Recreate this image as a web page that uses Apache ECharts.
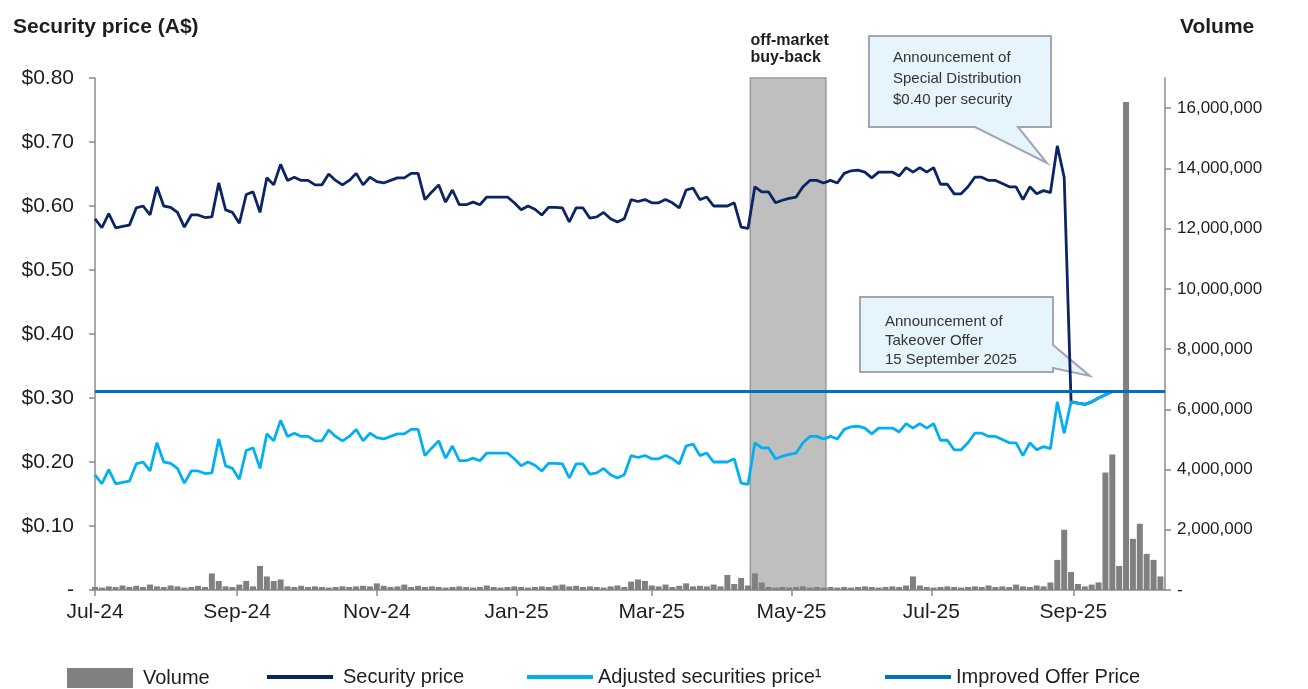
<!DOCTYPE html>
<html>
<head>
<meta charset="utf-8">
<script src="https://cdn.jsdelivr.net/npm/echarts@6/dist/echarts.min.js"></script>
<style>
  html, body { margin: 0; padding: 0; background: #fff; }
  #chart { width: 1308px; height: 689px; }
</style>
</head>
<body>
<div id="chart"></div>
<script>
// prices, one sample every 3 calendar days from 1 Jul 2024
const firstDay = '2024-07-01'
const stepDays = 3

const securityPrice = [
  0.580, 0.566, 0.588, 0.566, 0.568, 0.570, 0.597, 0.600, 0.586, 0.630,
  0.600, 0.598, 0.590, 0.567, 0.586, 0.586, 0.582, 0.583, 0.636, 0.594,
  0.590, 0.573, 0.618, 0.622, 0.590, 0.644, 0.633, 0.665, 0.640, 0.645,
  0.640, 0.640, 0.633, 0.633, 0.650, 0.640, 0.633, 0.640, 0.651, 0.633,
  0.645, 0.638, 0.636, 0.640, 0.644, 0.644, 0.651, 0.651, 0.610, 0.622,
  0.633, 0.606, 0.625, 0.602, 0.602, 0.606, 0.602, 0.614, 0.614, 0.614,
  0.614, 0.605, 0.594, 0.600, 0.595, 0.586, 0.598, 0.598, 0.597, 0.575,
  0.597, 0.597, 0.581, 0.583, 0.590, 0.580, 0.575, 0.580, 0.610, 0.607,
  0.610, 0.605, 0.605, 0.610, 0.605, 0.597, 0.625, 0.628, 0.610, 0.614,
  0.600, 0.600, 0.600, 0.605, 0.567, 0.565, 0.630, 0.622, 0.622, 0.605,
  0.609, 0.612, 0.614, 0.630, 0.640, 0.640, 0.636, 0.640, 0.636, 0.651,
  0.655, 0.656, 0.653, 0.644, 0.653, 0.653, 0.653, 0.647, 0.660, 0.653,
  0.660, 0.653, 0.660, 0.634, 0.634, 0.619, 0.619, 0.630, 0.645, 0.645,
  0.640, 0.640, 0.635, 0.630, 0.630, 0.610, 0.630, 0.619, 0.624, 0.621,
  0.694, 0.645, 0.294, 0.292, 0.290, 0.294, 0.300, 0.305, 0.310, 0.310,
  0.310, 0.310, 0.310, 0.310, 0.310, 0.310
]

const adjustedPrice = [
  0.180, 0.166, 0.188, 0.166, 0.168, 0.170, 0.197, 0.200, 0.186, 0.230,
  0.200, 0.198, 0.190, 0.167, 0.186, 0.186, 0.182, 0.183, 0.236, 0.194,
  0.190, 0.173, 0.218, 0.222, 0.190, 0.244, 0.233, 0.265, 0.240, 0.245,
  0.240, 0.240, 0.233, 0.233, 0.250, 0.240, 0.233, 0.240, 0.251, 0.233,
  0.245, 0.238, 0.236, 0.240, 0.244, 0.244, 0.251, 0.251, 0.210, 0.222,
  0.233, 0.206, 0.225, 0.202, 0.202, 0.206, 0.202, 0.214, 0.214, 0.214,
  0.214, 0.205, 0.194, 0.200, 0.195, 0.186, 0.198, 0.198, 0.197, 0.175,
  0.197, 0.197, 0.181, 0.183, 0.190, 0.180, 0.175, 0.180, 0.210, 0.207,
  0.210, 0.205, 0.205, 0.210, 0.205, 0.197, 0.225, 0.228, 0.210, 0.214,
  0.200, 0.200, 0.200, 0.205, 0.167, 0.165, 0.230, 0.222, 0.222, 0.205,
  0.209, 0.212, 0.214, 0.230, 0.240, 0.240, 0.236, 0.240, 0.236, 0.251,
  0.255, 0.256, 0.253, 0.244, 0.253, 0.253, 0.253, 0.247, 0.260, 0.253,
  0.260, 0.253, 0.260, 0.234, 0.234, 0.219, 0.219, 0.230, 0.245, 0.245,
  0.240, 0.240, 0.235, 0.230, 0.230, 0.210, 0.230, 0.219, 0.224, 0.221,
  0.294, 0.245, 0.294, 0.292, 0.290, 0.294, 0.300, 0.305, 0.310, 0.310,
  0.310, 0.310, 0.310, 0.310, 0.310, 0.310
]

// volume in millions of securities
const volumeM = [
  0.10, 0.08, 0.12, 0.10, 0.15, 0.10, 0.14, 0.10, 0.18, 0.12,
  0.10, 0.15, 0.12, 0.08, 0.10, 0.14, 0.10, 0.55, 0.30, 0.12,
  0.10, 0.18, 0.30, 0.12, 0.80, 0.45, 0.30, 0.35, 0.12, 0.10,
  0.14, 0.10, 0.12, 0.10, 0.08, 0.10, 0.12, 0.10, 0.12, 0.14,
  0.12, 0.22, 0.14, 0.10, 0.12, 0.18, 0.10, 0.14, 0.10, 0.12,
  0.10, 0.08, 0.10, 0.12, 0.10, 0.08, 0.10, 0.15, 0.10, 0.08,
  0.10, 0.12, 0.10, 0.08, 0.10, 0.12, 0.10, 0.15, 0.18, 0.12,
  0.14, 0.10, 0.12, 0.10, 0.08, 0.12, 0.15, 0.10, 0.28, 0.35,
  0.30, 0.15, 0.12, 0.18, 0.10, 0.14, 0.22, 0.12, 0.14, 0.12,
  0.18, 0.12, 0.50, 0.20, 0.40, 0.15, 0.55, 0.25, 0.10, 0.08,
  0.10, 0.08, 0.10, 0.12, 0.08, 0.10, 0.08, 0.10, 0.08, 0.10,
  0.08, 0.10, 0.12, 0.10, 0.08, 0.10, 0.12, 0.10, 0.15, 0.45,
  0.15, 0.10, 0.08, 0.10, 0.12, 0.10, 0.08, 0.10, 0.12, 0.10,
  0.15, 0.10, 0.12, 0.10, 0.18, 0.12, 0.10, 0.15, 0.12, 0.25,
  1.00, 2.00, 0.60, 0.20, 0.12, 0.18, 0.25, 3.90, 4.50, 0.80,
  16.20, 1.70, 2.20, 1.20, 1.00, 0.45
]

const offerPrice = 0.31
const offerDates = ['2024-07-01', '2025-10-11']
const buyBack = ['2025-04-13', '2025-05-16']

const tickDates = ['2024-07-01', '2024-09-01', '2024-11-01', '2025-01-01', '2025-03-01', '2025-05-01', '2025-07-01', '2025-09-01']
const tickLabels = ['Jul-24', 'Sep-24', 'Nov-24', 'Jan-25', 'Mar-25', 'May-25', 'Jul-25', 'Sep-25']
const volumeTicks = [0, 2, 4, 6, 8, 10, 12, 14, 16]

const ts = d => Date.parse(d + 'T00:00:00Z')
const DAY = 86400000
const dates = securityPrice.map((_, i) => ts(firstDay) + i * stepDays * DAY)
const tickTs = tickDates.map(ts)

const font = "'Liberation Sans', Arial, sans-serif"
const axisGrey = '#8c8c8c'
const textCol = '#1e1e1e'

const chart = echarts.init(document.getElementById('chart'))

function legendAt(name, left, isBar, gap) {
  return {
    data: [{ name, icon: 'rect' }],
    left, top: isBar ? 663 : 662,
    itemWidth: 66, itemHeight: isBar ? 20 : 4,
    textStyle: { fontFamily: font, fontSize: 20, color: textCol, padding: [0, 0, 0, gap] },
    selectedMode: false
  }
}

const option = {
  animation: false,
  backgroundColor: '#fff',
  title: [
    { text: 'Security price (A$)', left: 8, top: 12,
      textStyle: { fontFamily: font, fontWeight: 'bold', fontSize: 21, color: textCol } },
    { text: 'Volume', left: 1175, top: 12,
      textStyle: { fontFamily: font, fontWeight: 'bold', fontSize: 21, color: textCol } }
  ],
  legend: [
    legendAt('Volume', 62, true, 5),
    legendAt('Security price', 262, false, 5),
    legendAt('Adjusted securities price¹', 522, false, 0),
    legendAt('Improved Offer Price', 880, false, 0)
  ],
  grid: { left: 95, right: 143, top: 78, bottom: 99 },
  xAxis: {
    // dates as timestamps on a linear axis, labelled every two months
    type: 'value',
    min: ts(firstDay),
    max: ts(offerDates[1]),
    splitLine: { show: false },
    axisLine: { lineStyle: { color: axisGrey, width: 1.5 } },
    axisTick: { show: true, customValues: tickTs, length: 6, lineStyle: { color: axisGrey, width: 1.5 } },
    axisLabel: {
      customValues: tickTs,
      margin: 12,
      fontFamily: font, fontSize: 21, color: textCol,
      formatter: v => tickLabels[tickTs.indexOf(v)] || ''
    }
  },
  yAxis: [
    {
      type: 'value', position: 'left', min: 0, max: 0.8, interval: 0.1,
      splitLine: { show: false },
      axisLine: { show: true, lineStyle: { color: axisGrey, width: 1.5 } },
      axisTick: { show: true, length: 6, lineStyle: { color: axisGrey, width: 1.5 } },
      axisLabel: {
        margin: 21, fontFamily: font, fontSize: 21, color: textCol,
        formatter: v => v === 0 ? '-' : '$' + v.toFixed(2)
      }
    },
    {
      type: 'value', position: 'right', min: 0, max: 17,
      splitLine: { show: false },
      axisLine: { show: true, lineStyle: { color: axisGrey, width: 1.5 } },
      axisTick: { show: true, customValues: volumeTicks, length: 6, lineStyle: { color: axisGrey, width: 1.5 } },
      axisLabel: {
        customValues: volumeTicks,
        margin: 12, fontFamily: font, fontSize: 17, color: textCol,
        formatter: v => v === 0 ? '-' : (v * 1000000).toLocaleString('en-US')
      }
    }
  ],
  series: [
    {
      name: 'Volume', type: 'bar', yAxisIndex: 1,
      barWidth: 6,
      itemStyle: { color: '#808080' },
      data: dates.map((t, i) => [t, volumeM[i]])
    },
    {
      name: 'Security price', type: 'line', showSymbol: false, symbol: 'none',
      lineStyle: { width: 2.8, color: '#0b2463' }, itemStyle: { color: '#0b2463' },
      data: dates.map((t, i) => [t, securityPrice[i]])
    },
    {
      name: 'Adjusted securities price¹', type: 'line', showSymbol: false, symbol: 'none',
      lineStyle: { width: 2.8, color: '#00b0f0' }, itemStyle: { color: '#00b0f0' },
      data: dates.map((t, i) => [t, adjustedPrice[i]])
    },
    {
      name: 'Improved Offer Price', type: 'line', showSymbol: false, symbol: 'none',
      lineStyle: { width: 3, color: '#0070c0' }, itemStyle: { color: '#0070c0' },
      data: offerDates.map(d => [ts(d), offerPrice])
    },
    {
      // shaded off-market buy-back window, drawn over the lines
      name: 'buy-back', type: 'line', z: 10, data: [],
      markArea: {
        silent: true,
        itemStyle: { color: 'rgba(60,60,60,0.33)', borderColor: '#9a9a9a', borderWidth: 1.5 },
        label: {
          show: true,
          position: [1, -45],
          align: 'left', verticalAlign: 'top',
          formatter: 'off-market\nbuy-back',
          fontFamily: font, fontWeight: 'bold', fontSize: 16, lineHeight: 17, color: textCol
        },
        data: [[{ xAxis: ts(buyBack[0]) }, { xAxis: ts(buyBack[1]) }]]
      }
    }
  ],
  graphic: [
    {
      type: 'group', z: 100,
      children: [
        { type: 'polygon',
          shape: { points: [[869, 36], [1051, 36], [1051, 127], [1018, 127], [1047, 163], [975, 127], [869, 127]] },
          style: { fill: '#e6f4fc', stroke: '#a4a4b4', lineWidth: 2 } },
        { type: 'text', x: 893, y: 47,
          style: { text: 'Announcement of\nSpecial Distribution\n$0.40 per security',
            font: '15px ' + font, lineHeight: 21, fill: '#333' } }
      ]
    },
    {
      type: 'group', z: 100,
      children: [
        { type: 'polygon',
          shape: { points: [[860, 297], [1053, 297], [1053, 345], [1090, 376], [1053, 368], [1053, 372], [860, 372]] },
          style: { fill: '#e6f4fc', stroke: '#a4a4b4', lineWidth: 2 } },
        { type: 'text', x: 885, y: 312,
          style: { text: 'Announcement of\nTakeover Offer\n15 September 2025',
            font: '15px ' + font, lineHeight: 19, fill: '#333' } }
      ]
    }
  ]
}

chart.setOption(option)
</script>
</body>
</html>
